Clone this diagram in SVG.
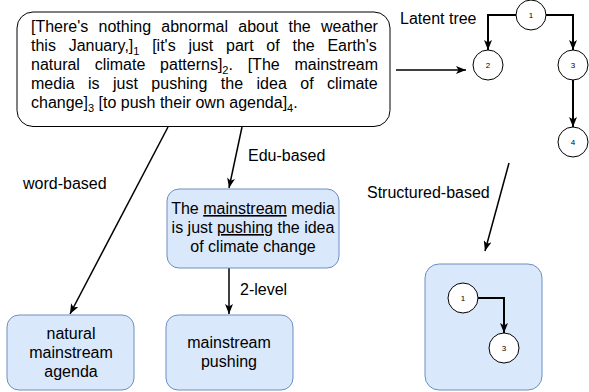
<svg xmlns="http://www.w3.org/2000/svg" width="589" height="392" viewBox="0 0 589 392">
<defs>
<marker id="arr" markerUnits="userSpaceOnUse" markerWidth="10" markerHeight="8" refX="10" refY="4" orient="auto">
<path d="M0,0 L10,4 L0,8 L2.5,4 z" fill="#000"/>
</marker>
<style>
text{font-family:"Liberation Sans",Arial,sans-serif;fill:#000}
.t16{font-size:16px}
.mid{text-anchor:middle}
.num{font-size:8px;text-anchor:middle}
.blue{fill:#dae8fc;stroke:#6c8ebf;stroke-width:1}
.circ{fill:#fff;stroke:#000;stroke-width:1}
.con{fill:none;stroke:#000;stroke-width:1.5}
.tree{fill:none;stroke:#000;stroke-width:2}
.sub{font-size:11px}
</style>
</defs>
<rect width="589" height="392" fill="#fff"/>

<g id="connectors">
<line class="con" x1="396" y1="70" x2="466" y2="70" marker-end="url(#arr)"/>
<line class="con" x1="168" y1="127" x2="70" y2="314" marker-end="url(#arr)"/>
<line class="con" x1="242" y1="127" x2="229" y2="188" marker-end="url(#arr)"/>
<line class="con" x1="229" y1="268" x2="229" y2="314" marker-end="url(#arr)"/>
<line class="con" x1="509" y1="163" x2="485" y2="251" marker-end="url(#arr)"/>
<polyline class="tree" points="516,15 488,15 488,50" marker-end="url(#arr)"/>
<polyline class="tree" points="546,15 573,15 573,50" marker-end="url(#arr)"/>
<line class="tree" x1="573" y1="80" x2="573" y2="127" marker-end="url(#arr)"/>
</g>

<g id="source">
<rect x="17" y="12" width="373" height="114.5" rx="16" fill="#fff" stroke="#000" stroke-width="1"/>
<text class="t16" x="31" y="32" word-spacing="5.8">[There's nothing abnormal about the weather</text>
<text class="t16" x="31" y="51" word-spacing="8.3">this January,]<tspan class="sub" dy="4">1</tspan><tspan dy="-4"> [it's just part of the Earth's</tspan></text>
<text class="t16" x="31" y="70" word-spacing="10.3">natural climate patterns]<tspan class="sub" dy="4">2</tspan><tspan dy="-4">. [The mainstream</tspan></text>
<text class="t16" x="31" y="89" word-spacing="9">media is just pushing the idea of climate</text>
<text class="t16" x="31" y="108">change]<tspan class="sub" dy="4">3</tspan><tspan dy="-4"> [to push their own agenda]</tspan><tspan class="sub" dy="4">4</tspan><tspan dy="-4">.</tspan></text>
</g>

<g id="latent-label"><text class="t16" x="400" y="24">Latent tree</text></g>
<g id="t1"><circle class="circ" cx="531" cy="15" r="15"/><text class="num" x="531" y="18">1</text></g>
<g id="t2"><circle class="circ" cx="488" cy="65" r="15"/><text class="num" x="488" y="68">2</text></g>
<g id="t3"><circle class="circ" cx="573" cy="65" r="15"/><text class="num" x="573" y="68">3</text></g>
<g id="t4"><circle class="circ" cx="573" cy="142" r="15"/><text class="num" x="573" y="145">4</text></g>

<g id="labels">
<text class="t16" x="248" y="161">Edu-based</text>
<text class="t16" x="23" y="189">word-based</text>
<text class="t16" x="240" y="295">2-level</text>
<text class="t16" x="367" y="198">Structured-based</text>
</g>

<g id="edu">
<rect class="blue" x="167" y="189" width="172" height="79" rx="12"/>
<text class="t16 mid" x="253" y="214">The <tspan text-decoration="underline">mainstream</tspan> media</text>
<text class="t16 mid" x="253" y="233">is just <tspan text-decoration="underline">pushing</tspan> the idea</text>
<text class="t16 mid" x="253" y="252">of climate change</text>
</g>

<g id="word">
<rect class="blue" x="7" y="315" width="127" height="75" rx="12"/>
<text class="t16 mid" x="71" y="339">natural</text>
<text class="t16 mid" x="71" y="358">mainstream</text>
<text class="t16 mid" x="71" y="377">agenda</text>
</g>

<g id="twolevel">
<rect class="blue" x="166" y="315" width="127" height="75" rx="12"/>
<text class="t16 mid" x="229" y="348">mainstream</text>
<text class="t16 mid" x="229" y="367">pushing</text>
</g>

<g id="structured">
<rect class="blue" x="425" y="264" width="117" height="126" rx="14"/>
<circle class="circ" cx="463" cy="298" r="15"/><text class="num" x="463" y="301">1</text>
<polyline class="tree" points="478,298 504,298 504,333" marker-end="url(#arr)"/>
<circle class="circ" cx="504" cy="348" r="15"/><text class="num" x="504" y="351">3</text>
</g>
</svg>
